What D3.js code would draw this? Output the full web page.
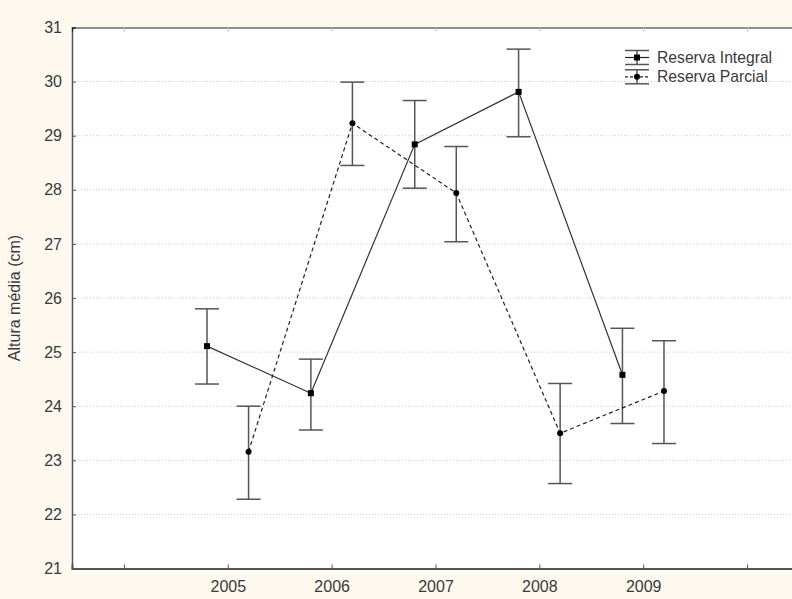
<!DOCTYPE html>
<html>
<head>
<meta charset="utf-8">
<script src="https://cdn.jsdelivr.net/npm/d3@7"></script>
<style>
  html, body { margin: 0; padding: 0; background: #fdf9ef; }
  svg { display: block; }
  text { font-family: "Liberation Sans", Arial, sans-serif; fill: #3a3a3a; }
</style>
</head>
<body>
<svg id="chart" width="792" height="599"></svg>
<script>
// Years on the x axis (ticks) and the ones that get a label
const tickYears = [2004, 2005, 2006, 2007, 2008, 2009, 2010];
const labelYears = [2005, 2006, 2007, 2008, 2009];
const yTicks = [21, 22, 23, 24, 25, 26, 27, 28, 29, 30, 31];

// Reserva Integral: mean height and error interval
const years = [2005, 2006, 2007, 2008, 2009];
const integralMean = [25.11, 24.24, 28.84, 29.81, 24.58];
const integralLow  = [24.41, 23.56, 28.03, 28.98, 23.68];
const integralHigh = [25.80, 24.87, 29.65, 30.60, 25.44];

// Reserva Parcial: mean height and error interval
const parcialMean = [23.16, 29.23, 27.94, 23.50, 24.28];
const parcialLow  = [22.28, 28.45, 27.04, 22.57, 23.31];
const parcialHigh = [24.00, 29.99, 28.80, 24.42, 25.21];

const seriesNames = ["Reserva Integral", "Reserva Parcial"];

const svg = d3.select("#chart");
const plotL = 72, plotT = 27.5, plotB = 568.5, plotR = 799;

const x = d3.scaleLinear().domain([2003.5, 2010.5]).range([plotL, plotR]);
const y = d3.scaleLinear().domain([21, 31]).range([plotB, plotT]);

// plot area
svg.append("rect")
  .attr("x", plotL).attr("y", plotT)
  .attr("width", plotR - plotL).attr("height", plotB - plotT)
  .attr("fill", "#ffffff");

// dotted horizontal grid
svg.append("g")
  .selectAll("line")
  .data(yTicks.filter(d => d > 21 && d < 31))
  .join("line")
  .attr("x1", plotL).attr("x2", plotR)
  .attr("y1", d => y(d)).attr("y2", d => y(d))
  .attr("stroke", "#c8c8c8")
  .attr("stroke-width", 1)
  .attr("stroke-dasharray", "1,2");

// axes
const yAxis = d3.axisLeft(y).tickValues(yTicks).tickSize(-4).tickPadding(10).tickFormat(d3.format("d"));
const gy = svg.append("g").attr("transform", `translate(${plotL},0)`).call(yAxis);
gy.select(".domain").attr("stroke", "#555").attr("stroke-width", 1.5);
gy.selectAll(".tick line").attr("stroke", "#555");
gy.selectAll(".tick text").attr("font-size", 16).style("font-family", "Liberation Sans, Arial, sans-serif").attr("fill", "#3a3a3a");

const xAxis = d3.axisBottom(x).tickValues(tickYears).tickSize(-4).tickPadding(12)
  .tickFormat(d => labelYears.includes(d) ? String(d) : "");
const gx = svg.append("g").attr("transform", `translate(0,${plotB})`).call(xAxis);
gx.select(".domain").attr("stroke", "#555").attr("stroke-width", 2);
gx.selectAll(".tick line").attr("stroke", "#555");
gx.selectAll(".tick text").attr("font-size", 16).style("font-family", "Liberation Sans, Arial, sans-serif").attr("fill", "#3a3a3a");

const xTop = d3.axisTop(x).tickValues(tickYears).tickSize(-4).tickFormat("");
const gt = svg.append("g").attr("transform", `translate(0,${plotT})`).call(xTop);
gt.select(".domain").attr("stroke", "#222").attr("stroke-width", 1.2);
gt.selectAll(".tick line").attr("stroke", "#bbb");

// axis title
svg.append("text")
  .attr("transform", `translate(20,${(plotT + plotB) / 2}) rotate(-90)`)
  .attr("text-anchor", "middle")
  .attr("font-size", 16)
  .text("Altura média (cm)");

const offset = 0.2;
const capW = 12;

function drawSeries(mean, low, high, dx, dashed, marker) {
  const pts = years.map((yr, i) => ({ x: yr + dx, m: mean[i], lo: low[i], hi: high[i] }));
  const g = svg.append("g");
  // error bars
  const eb = g.selectAll("g.eb").data(pts).join("g");
  eb.append("line")
    .attr("x1", d => x(d.x)).attr("x2", d => x(d.x))
    .attr("y1", d => y(d.lo)).attr("y2", d => y(d.hi))
    .attr("stroke", "#555").attr("stroke-width", 1.5);
  eb.append("line")
    .attr("x1", d => x(d.x) - capW).attr("x2", d => x(d.x) + capW)
    .attr("y1", d => y(d.hi)).attr("y2", d => y(d.hi))
    .attr("stroke", "#555").attr("stroke-width", 1.5);
  eb.append("line")
    .attr("x1", d => x(d.x) - capW).attr("x2", d => x(d.x) + capW)
    .attr("y1", d => y(d.lo)).attr("y2", d => y(d.lo))
    .attr("stroke", "#555").attr("stroke-width", 1.5);
  // connecting line
  const line = d3.line().x(d => x(d.x)).y(d => y(d.m));
  g.append("path")
    .datum(pts)
    .attr("d", line)
    .attr("fill", "none")
    .attr("stroke", dashed ? "#222" : "#333")
    .attr("stroke-width", 1.2)
    .attr("stroke-dasharray", dashed ? "4,3" : null);
  // markers
  if (marker === "square") {
    g.selectAll("rect.mk").data(pts).join("rect")
      .attr("x", d => x(d.x) - 3).attr("y", d => y(d.m) - 3)
      .attr("width", 6).attr("height", 6).attr("fill", "#000");
  } else {
    g.selectAll("circle.mk").data(pts).join("circle")
      .attr("cx", d => x(d.x)).attr("cy", d => y(d.m))
      .attr("r", 3).attr("fill", "#000");
  }
}

drawSeries(integralMean, integralLow, integralHigh, -offset, false, "square");
drawSeries(parcialMean, parcialLow, parcialHigh, offset, true, "circle");

// legend
const lg = svg.append("g");
const lx0 = 625, lx1 = 649, lcx = 637;
const rows = [
  { name: seriesNames[0], cy: 57.5, dashed: false },
  { name: seriesNames[1], cy: 76.8, dashed: true }
];
rows.forEach(r => {
  lg.append("line").attr("x1", lx0).attr("x2", lx1).attr("y1", r.cy - 7).attr("y2", r.cy - 7)
    .attr("stroke", "#555").attr("stroke-width", 1.5);
  lg.append("line").attr("x1", lx0).attr("x2", lx1).attr("y1", r.cy + 7).attr("y2", r.cy + 7)
    .attr("stroke", "#555").attr("stroke-width", 1.5);
  lg.append("line").attr("x1", lcx).attr("x2", lcx).attr("y1", r.cy - 7).attr("y2", r.cy + 7)
    .attr("stroke", "#555").attr("stroke-width", 1.5);
  lg.append("line").attr("x1", lx0).attr("x2", lx1).attr("y1", r.cy).attr("y2", r.cy)
    .attr("stroke", "#222").attr("stroke-width", 1.2)
    .attr("stroke-dasharray", r.dashed ? "3,2" : null);
  if (r.dashed) {
    lg.append("circle").attr("cx", lcx).attr("cy", r.cy).attr("r", 3).attr("fill", "#000");
  } else {
    lg.append("rect").attr("x", lcx - 3).attr("y", r.cy - 3).attr("width", 6).attr("height", 6).attr("fill", "#000");
  }
  lg.append("text").attr("x", 657).attr("y", r.cy + 5.5)
    .attr("font-size", 15.7).text(r.name);
});
</script>
</body>
</html>
